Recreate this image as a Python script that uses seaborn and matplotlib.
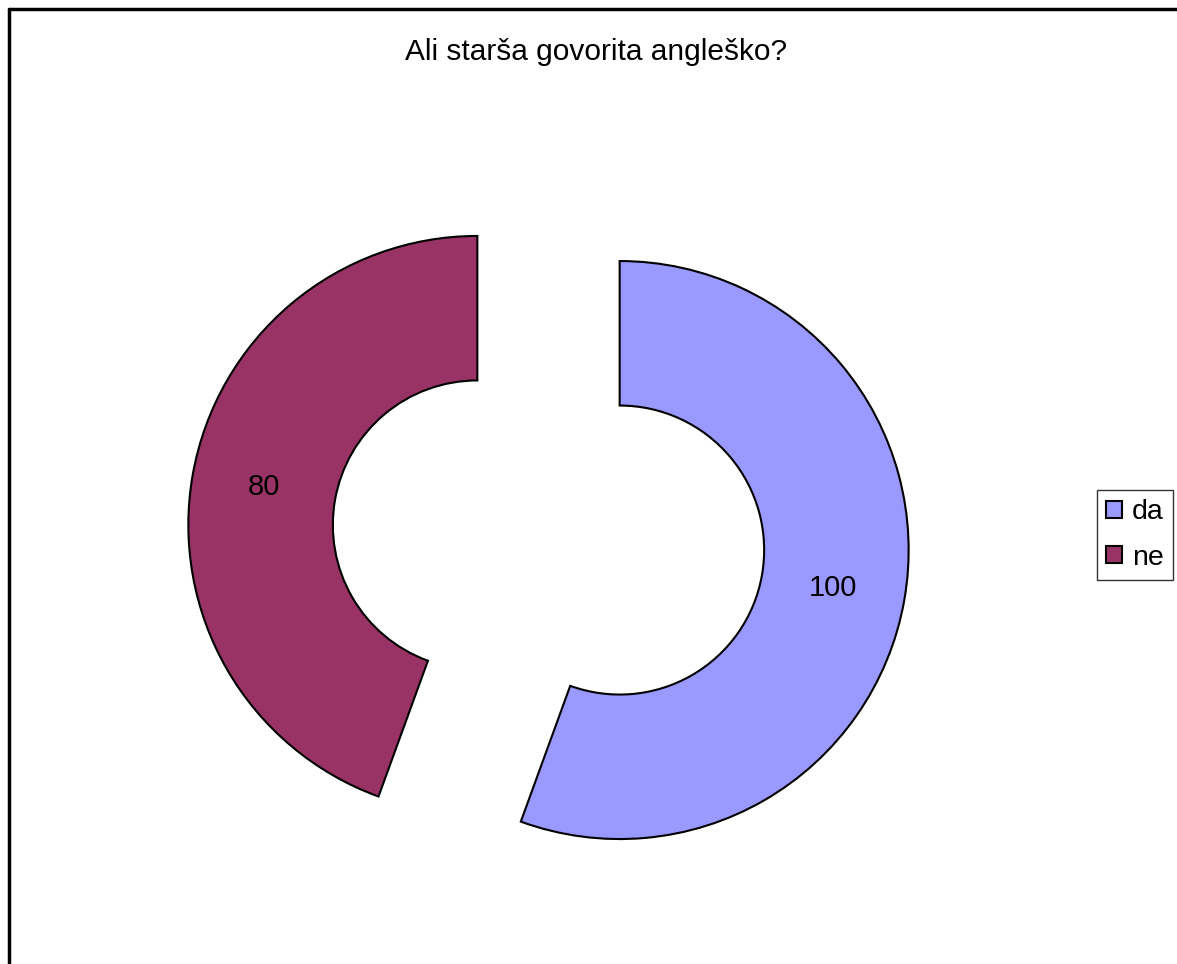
import matplotlib
matplotlib.use("Agg")
import matplotlib.pyplot as plt
import seaborn as sns
from matplotlib.patches import Patch

categories = ["da", "ne"]
values = [100, 80]
colors = ["#9999FF", "#993366"]
title = "Ali starša govorita angleško?"

sns.set_theme(style="white")
plt.rcParams["font.family"] = ["Liberation Sans", "DejaVu Sans"]
plt.rcParams["text.color"] = "black"

W, H = 1177, 964
fig = plt.figure(figsize=(W / 100, H / 100), dpi=100)
fig.patch.set_facecolor("white")

# pixel mapping: center (548.5, 537.5), 289 px per unit
cx, cy, s = 548.5, 537.5, 289.0
ax = fig.add_axes([0, 0, 1, 1])
total = sum(values)
wedges, texts, autotexts = ax.pie(
    values,
    explode=[0.25, 0.25],
    colors=colors,
    startangle=90,
    counterclock=False,
    radius=1.0,
    wedgeprops=dict(width=0.5, edgecolor="black", linewidth=1.5),
    autopct=lambda p: f"{p * total / 100:.0f}",
    pctdistance=0.75,
    textprops=dict(fontsize=21, color="black"),
)
ax.set_xlim(-cx / s, (W - cx) / s)
ax.set_ylim(-(H - cy) / s, cy / s)
ax.set_aspect("auto")
ax.axis("off")

fig.text(596.5 / W, 1 - 52 / H, title, ha="center", va="center",
         fontsize=21.5, color="black")

# figure border (top and left visible)
fig.add_artist(plt.Line2D([9 / W, 9 / W], [0, 1 - 9 / H], transform=fig.transFigure,
                          color="black", linewidth=2.5))
fig.add_artist(plt.Line2D([9 / W, 1], [1 - 9 / H, 1 - 9 / H], transform=fig.transFigure,
                          color="black", linewidth=2.5))

handles = [Patch(facecolor=c, edgecolor="black", linewidth=1.5) for c in colors]
leg = fig.legend(handles, categories, loc="upper left",
                 bbox_to_anchor=(1097 / W, 1 - 490 / H),
                 frameon=True, fancybox=False, fontsize=20.5,
                 handlelength=0.55, handleheight=0.55, handletextpad=0.35,
                 borderpad=0.33, labelspacing=0.68, borderaxespad=0)
for t in leg.get_texts():
    t.set_color("black")
leg.get_frame().set_edgecolor("black")
leg.get_frame().set_linewidth(1.0)

fig.savefig("out.png", dpi=100, facecolor="white")
